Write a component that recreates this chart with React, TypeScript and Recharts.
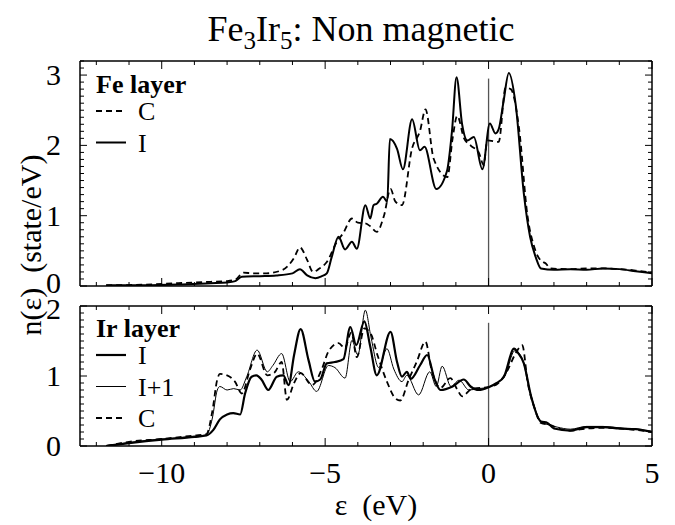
import React from "react";
import { LineChart, Line, XAxis, YAxis, ReferenceLine, Legend } from "recharts";

const FONT = '"Liberation Serif", "Times New Roman", Times, serif';

// axis ticks
const X_TICKS = [-12, -11, -10, -9, -8, -7, -6, -5, -4, -3, -2, -1, 0, 1, 2, 3, 4, 5];
const Y_TICKS_FE = [
  0, 0.1, 0.2, 0.3, 0.4, 0.5, 0.6, 0.7, 0.8, 0.9, 1, 1.1, 1.2, 1.3, 1.4, 1.5, 1.6,
  1.7, 1.8, 1.9, 2, 2.1, 2.2, 2.3, 2.4, 2.5, 2.6, 2.7, 2.8, 2.9, 3, 3.1, 3.2,
];
const Y_TICKS_IR = [
  0, 0.1, 0.2, 0.3, 0.4, 0.5, 0.6, 0.7, 0.8, 0.9, 1, 1.1, 1.2, 1.3, 1.4, 1.5, 1.6,
  1.7, 1.8, 1.9, 2,
];

// Fe layer, [energy eV, n(e)]
const FE_C: [number, number][] = [
  [-11.7, 0.01], [-10.5, 0.02], [-9.5, 0.04], [-8.5, 0.06], [-8.0, 0.07], [-7.75, 0.09],
  [-7.5, 0.19], [-7.2, 0.18], [-6.8, 0.18], [-6.3, 0.23], [-5.95, 0.4], [-5.77, 0.55],
  [-5.55, 0.37], [-5.37, 0.2], [-5.2, 0.24], [-4.95, 0.34], [-4.64, 0.63], [-4.45, 0.75],
  [-4.18, 0.96], [-4.0, 0.9], [-3.77, 0.89], [-3.62, 0.85], [-3.42, 0.77], [-3.2, 1.0],
  [-3.0, 1.38], [-2.85, 1.2], [-2.65, 1.15], [-2.34, 1.96], [-2.1, 2.2], [-1.93, 2.51],
  [-1.68, 1.81], [-1.26, 1.55], [-1.1, 2.1], [-0.96, 2.42], [-0.75, 2.1], [-0.53, 1.99],
  [-0.3, 1.9], [-0.15, 1.72], [-0.04, 2.07], [0.31, 2.05], [0.52, 2.82], [0.68, 2.8],
  [0.93, 2.25], [1.19, 1.0], [1.4, 0.55], [1.6, 0.36], [1.75, 0.32], [1.9, 0.25],
  [2.5, 0.24], [3.0, 0.25], [3.5, 0.25], [4.0, 0.24], [4.5, 0.22], [5.0, 0.19],
];
const FE_I: [number, number][] = [
  [-11.7, 0.01], [-10.5, 0.01], [-9.5, 0.02], [-8.5, 0.04], [-8.0, 0.05], [-7.75, 0.07],
  [-7.55, 0.13], [-7.0, 0.14], [-6.5, 0.15], [-6.0, 0.18], [-5.77, 0.24], [-5.55, 0.15],
  [-5.3, 0.11], [-5.1, 0.14], [-4.95, 0.18], [-4.8, 0.41], [-4.59, 0.7], [-4.39, 0.52],
  [-4.18, 0.63], [-4.03, 0.53], [-3.77, 1.15], [-3.62, 0.96], [-3.52, 1.15], [-3.42, 1.17],
  [-3.23, 1.27], [-3.1, 1.2], [-3.02, 2.09], [-2.8, 1.95], [-2.62, 1.66], [-2.34, 2.37],
  [-2.1, 1.93], [-1.96, 1.98], [-1.6, 1.38], [-1.27, 1.64], [-1.12, 2.2], [-0.98, 2.97],
  [-0.81, 2.3], [-0.65, 2.07], [-0.45, 2.12], [-0.19, 1.66], [0.04, 2.31], [0.21, 2.17],
  [0.31, 2.23], [0.45, 2.6], [0.62, 3.03], [0.83, 2.58], [1.08, 1.31], [1.27, 0.7],
  [1.45, 0.4], [1.6, 0.25], [2.0, 0.23], [2.5, 0.24], [3.0, 0.23], [3.5, 0.25],
  [4.0, 0.24], [4.5, 0.21], [5.0, 0.18],
];

// Ir layer
const IR_I: [number, number][] = [
  [-11.7, 0.0], [-11.0, 0.04], [-10.0, 0.09], [-9.0, 0.13], [-8.63, 0.15], [-8.42, 0.23],
  [-8.22, 0.38], [-8.0, 0.45], [-7.81, 0.47], [-7.6, 0.45], [-7.45, 0.75], [-7.25, 0.99],
  [-7.1, 1.01], [-6.95, 0.95], [-6.74, 0.8], [-6.48, 0.99], [-6.28, 1.01], [-6.12, 0.87],
  [-5.95, 1.3], [-5.75, 1.67], [-5.51, 1.23], [-5.31, 0.92], [-5.15, 0.95], [-4.95, 1.18],
  [-4.7, 1.2], [-4.44, 1.24], [-4.23, 1.7], [-4.05, 1.44], [-3.8, 1.78], [-3.62, 1.42],
  [-3.42, 1.01], [-3.0, 1.63], [-2.8, 1.2], [-2.65, 0.99], [-2.5, 1.06], [-2.38, 0.96],
  [-2.1, 1.15], [-1.88, 1.3], [-1.65, 0.95], [-1.47, 0.8], [-1.1, 0.85], [-0.76, 0.95],
  [-0.55, 0.85], [-0.3, 0.8], [0.0, 0.84], [0.25, 0.9], [0.47, 0.99], [0.78, 1.39],
  [0.9, 1.33], [1.08, 1.18], [1.3, 0.71], [1.6, 0.35], [1.8, 0.33], [2.0, 0.25],
  [2.5, 0.22], [3.0, 0.27], [3.5, 0.27], [4.0, 0.25], [4.5, 0.24], [5.0, 0.2],
];
const IR_I1: [number, number][] = [
  [-11.7, 0.0], [-11.0, 0.05], [-10.0, 0.1], [-9.0, 0.14], [-8.63, 0.16], [-8.45, 0.4],
  [-8.3, 0.8], [-8.22, 0.85], [-8.0, 0.8], [-7.8, 0.82], [-7.6, 0.8], [-7.4, 0.99],
  [-7.08, 1.37], [-6.77, 1.06], [-6.6, 1.15], [-6.33, 1.32], [-6.07, 0.92], [-5.82, 1.06],
  [-5.5, 0.92], [-5.26, 0.78], [-4.9, 1.15], [-4.7, 1.12], [-4.39, 0.97], [-4.18, 1.51],
  [-4.0, 1.3], [-3.77, 1.94], [-3.6, 1.56], [-3.36, 1.12], [-3.11, 1.39], [-2.9, 1.1],
  [-2.65, 0.92], [-2.5, 1.01], [-2.14, 0.73], [-1.8, 1.06], [-1.6, 0.85], [-1.42, 1.14],
  [-1.15, 0.85], [-0.9, 0.94], [-0.6, 0.8], [-0.3, 0.82], [0.0, 0.84], [0.25, 0.9],
  [0.5, 1.0], [0.8, 1.36], [1.0, 1.28], [1.3, 0.72], [1.6, 0.35], [1.85, 0.3],
  [2.1, 0.27], [2.5, 0.24], [3.0, 0.28], [3.5, 0.28], [4.0, 0.26], [4.5, 0.24], [5.0, 0.21],
];
const IR_C: [number, number][] = [
  [-11.7, 0.0], [-11.0, 0.06], [-10.0, 0.1], [-9.0, 0.15], [-8.63, 0.17], [-8.45, 0.5],
  [-8.3, 0.95], [-8.22, 1.03], [-8.0, 1.01], [-7.76, 0.92], [-7.55, 0.75], [-7.3, 1.09],
  [-7.08, 1.32], [-6.77, 1.01], [-6.55, 1.05], [-6.33, 1.2], [-6.17, 0.66], [-5.95, 0.9],
  [-5.75, 1.04], [-5.4, 0.87], [-5.1, 1.1], [-4.9, 1.35], [-4.59, 1.47], [-4.4, 1.4],
  [-4.2, 1.62], [-4.03, 1.27], [-3.8, 1.68], [-3.6, 1.6], [-3.4, 1.3], [-3.11, 0.92],
  [-2.85, 0.68], [-2.7, 0.65], [-2.45, 0.94], [-2.2, 1.2], [-1.93, 1.49], [-1.75, 1.1],
  [-1.47, 0.83], [-1.17, 0.97], [-0.95, 0.8], [-0.81, 0.71], [-0.5, 0.82], [0.0, 0.84],
  [0.3, 0.9], [0.6, 1.1], [0.8, 1.3], [1.03, 1.44], [1.2, 0.9], [1.4, 0.55],
  [1.6, 0.33], [1.9, 0.3], [2.2, 0.24], [2.5, 0.22], [3.0, 0.25], [3.5, 0.26],
  [4.0, 0.25], [4.5, 0.23], [5.0, 0.2],
];

const FE_LEGEND = [
  { label: "C", dash: "6 4", width: 1.8 },
  { label: "I", dash: undefined, width: 2 },
];
const IR_LEGEND = [
  { label: "I", dash: undefined, width: 2.2 },
  { label: "I+1", dash: undefined, width: 1 },
  { label: "C", dash: "6 4", width: 1.8 },
];

const pts = (rows: [number, number][]) => rows.map(([x, y]) => ({ x, y }));

const isMajor = (v: number, step: number) => Math.abs(v / step - Math.round(v / step)) < 1e-6;
const fmt = (v: number) => (v < 0 ? "\u2212" + Math.abs(v) : String(v));

function XTick(props: any) {
  const { x, y, payload, side, labeled } = props;
  const major = isMajor(payload.value, 5);
  const len = major ? 8 : 4;
  const d = side === "bottom" ? -1 : 1;
  return (
    <g>
      <line x1={x} x2={x} y1={y} y2={y + d * len} stroke="#000" strokeWidth={1} />
      {labeled && major ? (
        <text x={x} y={y + 37} textAnchor="middle" fontSize={30} fontFamily={FONT} fill="#000">
          {fmt(payload.value)}
        </text>
      ) : null}
    </g>
  );
}

function YTick(props: any) {
  const { x, y, payload, side, labeled, nudgeValue, nudge } = props;
  const major = isMajor(payload.value, 1);
  const len = major ? 7 : 4;
  const d = side === "left" ? 1 : -1;
  // the "0" of the upper panel and the "2" of the lower one sit back to back
  const dy = payload.value === nudgeValue ? nudge : 0;
  return (
    <g>
      <line x1={x} x2={x + d * len} y1={y} y2={y} stroke="#000" strokeWidth={1} />
      {labeled && major ? (
        <text x={x - 19} y={y + 10 + dy} textAnchor="end" fontSize={30} fontFamily={FONT} fill="#000">
          {payload.value}
        </text>
      ) : null}
    </g>
  );
}

function LegendBox({ title, rows }: { title: string; rows: typeof FE_LEGEND }) {
  return (
    <svg width={140} height={130} style={{ display: "block" }}>
      <text x={2} y={27} fontSize={26} fontWeight="bold" fontFamily={FONT} fill="#000">
        {title}
      </text>
      {rows.map((r, i) => {
        const cy = 45 + i * 31.5;
        return (
          <g key={r.label}>
            <line x1={2} x2={32} y1={cy} y2={cy} stroke="#000" strokeWidth={r.width} strokeDasharray={r.dash} />
            <text x={44} y={cy + 9} fontSize={26} fontFamily={FONT} fill="#000">
              {r.label}
            </text>
          </g>
        );
      })}
    </svg>
  );
}

const axisLine = { stroke: "#000", strokeWidth: 1.5 };

// one framed panel: ticks on all four sides, pointing inwards
function Panel({
  height,
  margin,
  yMax,
  yTicks,
  xLabels,
  zeroTop,
  nudgeValue,
  nudge,
  legendTop,
  legendTitle,
  legendRows,
  children,
}: any) {
  return (
    <LineChart width={675} height={height} margin={margin}>
      <XAxis
        dataKey="x"
        type="number"
        domain={[-12.5, 5]}
        ticks={X_TICKS}
        interval={0}
        allowDataOverflow
        height={1}
        tickSize={0}
        tickMargin={0}
        tickLine={false}
        axisLine={axisLine}
        tick={(p: any) => <XTick {...p} side="bottom" labeled={xLabels} />}
      />
      <XAxis
        xAxisId="top"
        orientation="top"
        dataKey="x"
        type="number"
        domain={[-12.5, 5]}
        ticks={X_TICKS}
        interval={0}
        allowDataOverflow
        height={1}
        tickSize={0}
        tickMargin={0}
        tickLine={false}
        axisLine={axisLine}
        tick={(p: any) => <XTick {...p} side="top" labeled={false} />}
      />
      <YAxis
        type="number"
        domain={[0, yMax]}
        ticks={yTicks}
        interval={0}
        allowDataOverflow
        width={1}
        tickSize={0}
        tickMargin={0}
        tickLine={false}
        axisLine={axisLine}
        tick={(p: any) => <YTick {...p} side="left" labeled nudgeValue={nudgeValue} nudge={nudge} />}
      />
      <YAxis
        yAxisId="right"
        orientation="right"
        type="number"
        domain={[0, yMax]}
        ticks={yTicks}
        interval={0}
        allowDataOverflow
        width={1}
        tickSize={0}
        tickMargin={0}
        tickLine={false}
        axisLine={axisLine}
        tick={(p: any) => <YTick {...p} side="right" labeled={false} />}
      />
      <ReferenceLine
        segment={[
          { x: 0, y: 0 },
          { x: 0, y: zeroTop },
        ]}
        stroke="#555"
        strokeWidth={1.3}
        ifOverflow="visible"
      />
      {children}
      <Legend
        layout="vertical"
        align="center"
        verticalAlign="middle"
        wrapperStyle={{ left: 94, top: legendTop, width: 140, height: 130, right: "auto", bottom: "auto" }}
        content={() => <LegendBox title={legendTitle} rows={legendRows} />}
      />
    </LineChart>
  );
}

export default function App() {
  return (
    <div
      style={{
        position: "absolute",
        left: 0,
        top: 0,
        width: 675,
        height: 525,
        background: "#fff",
        fontFamily: FONT,
        color: "#000",
      }}
    >
      <div style={{ position: "absolute", left: 0, top: 8, width: 722, textAlign: "center", fontSize: 36, whiteSpace: "nowrap" }}>
        Fe<sub style={{ fontSize: 25, verticalAlign: "-8px" }}>3</sub>Ir
        <sub style={{ fontSize: 25, verticalAlign: "-8px" }}>5</sub>: Non magnetic
      </div>

      <div style={{ position: "absolute", left: 0, top: 0 }}>
        <Panel
          height={302}
          margin={{ top: 60, right: 22, bottom: 15, left: 79 }}
          yMax={3.2}
          yTicks={Y_TICKS_FE}
          xLabels={false}
          zeroTop={2.95}
          nudgeValue={0}
          nudge={-3}
          legendTop={66}
          legendTitle="Fe layer"
          legendRows={FE_LEGEND}
        >
          <Line data={pts(FE_C)} dataKey="y" type="monotone" stroke="#000" strokeWidth={1.8} strokeDasharray="6 4" dot={false} isAnimationActive={false} name="C" />
          <Line data={pts(FE_I)} dataKey="y" type="monotone" stroke="#000" strokeWidth={2} dot={false} isAnimationActive={false} name="I" />
        </Panel>
      </div>

      <div style={{ position: "absolute", left: 0, top: 290 }}>
        <Panel
          height={235}
          margin={{ top: 15, right: 22, bottom: 78, left: 79 }}
          yMax={2}
          yTicks={Y_TICKS_IR}
          xLabels
          zeroTop={1.76}
          nudgeValue={2}
          nudge={3}
          legendTop={20}
          legendTitle="Ir layer"
          legendRows={IR_LEGEND}
        >
          <Line data={pts(IR_C)} dataKey="y" type="monotone" stroke="#000" strokeWidth={1.8} strokeDasharray="6 4" dot={false} isAnimationActive={false} name="C" />
          <Line data={pts(IR_I1)} dataKey="y" type="monotone" stroke="#000" strokeWidth={1} dot={false} isAnimationActive={false} name="I+1" />
          <Line data={pts(IR_I)} dataKey="y" type="monotone" stroke="#000" strokeWidth={2.2} dot={false} isAnimationActive={false} name="I" />
        </Panel>
      </div>

      <div
        style={{
          position: "absolute",
          left: 31,
          top: 245,
          transform: "translate(-50%, -50%) rotate(-90deg)",
          fontSize: 30,
          whiteSpace: "pre",
        }}
      >
        {"n(\u03b5)  (state/eV)"}
      </div>

      <div style={{ position: "absolute", left: 0, top: 488, width: 752, textAlign: "center", fontSize: 30, whiteSpace: "pre" }}>
        {"\u03b5  (eV)"}
      </div>
    </div>
  );
}
